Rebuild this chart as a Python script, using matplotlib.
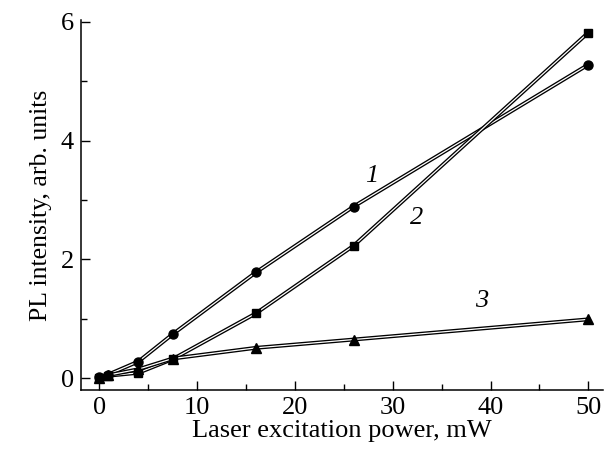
import matplotlib.pyplot as plt
import matplotlib.patheffects as pe
from matplotlib.ticker import MultipleLocator

# laser power, mW
power = [0, 0.9, 4, 7.5, 16, 26, 50]

# PL intensity, arb. units
curve1 = [0.02, 0.06, 0.28, 0.74, 1.78, 2.89, 5.28]   # circles
curve2 = [0.01, 0.04, 0.09, 0.32, 1.09, 2.23, 5.82]   # squares
curve3 = [0.01, 0.05, 0.15, 0.33, 0.51, 0.65, 0.99]   # triangles

curve_labels = ["1", "2", "3"]
label_pos = [(27.8, 3.41), (32.4, 2.70), (39.1, 1.30)]

plt.rcParams['font.family'] = ['Liberation Serif', 'DejaVu Serif']

fig = plt.figure(figsize=(6.13, 4.57), dpi=100)
ax = fig.add_axes([0.1317, 0.1466, 0.852, 0.8094])

hollow = [pe.withStroke(linewidth=2.8, foreground='black')]
for ys, m, ms in [(curve1, 'o', 6.5), (curve2, 's', 5.5), (curve3, '^', 6.5)]:
    ax.plot(power, ys, color='white', lw=0.9, path_effects=hollow, zorder=2)
    ax.plot(power, ys, linestyle='none', marker=m, ms=ms, color='black', zorder=3)

for txt, (x, y) in zip(curve_labels, label_pos):
    ax.text(x, y, txt, fontsize=19, style='italic', ha='center', va='center')

ax.set_xlim(-1.9, 51.5)
ax.set_ylim(-0.2, 6.03)
ax.xaxis.set_major_locator(MultipleLocator(10))
ax.xaxis.set_minor_locator(MultipleLocator(5))
ax.yaxis.set_major_locator(MultipleLocator(2))
ax.yaxis.set_minor_locator(MultipleLocator(1))
ax.tick_params(which='both', direction='in', width=1.0, labelsize=19, pad=5)
ax.tick_params(which='major', length=6.5)
ax.tick_params(which='minor', length=4)

for s in ['top', 'right']:
    ax.spines[s].set_visible(False)
for s in ['left', 'bottom']:
    ax.spines[s].set_linewidth(1.1)

ax.set_xlabel("Laser excitation power, mW", fontsize=19, labelpad=1)
ax.set_ylabel("PL intensity, arb. units", fontsize=18.5, labelpad=6)

fig.savefig("out.png", dpi=100)
